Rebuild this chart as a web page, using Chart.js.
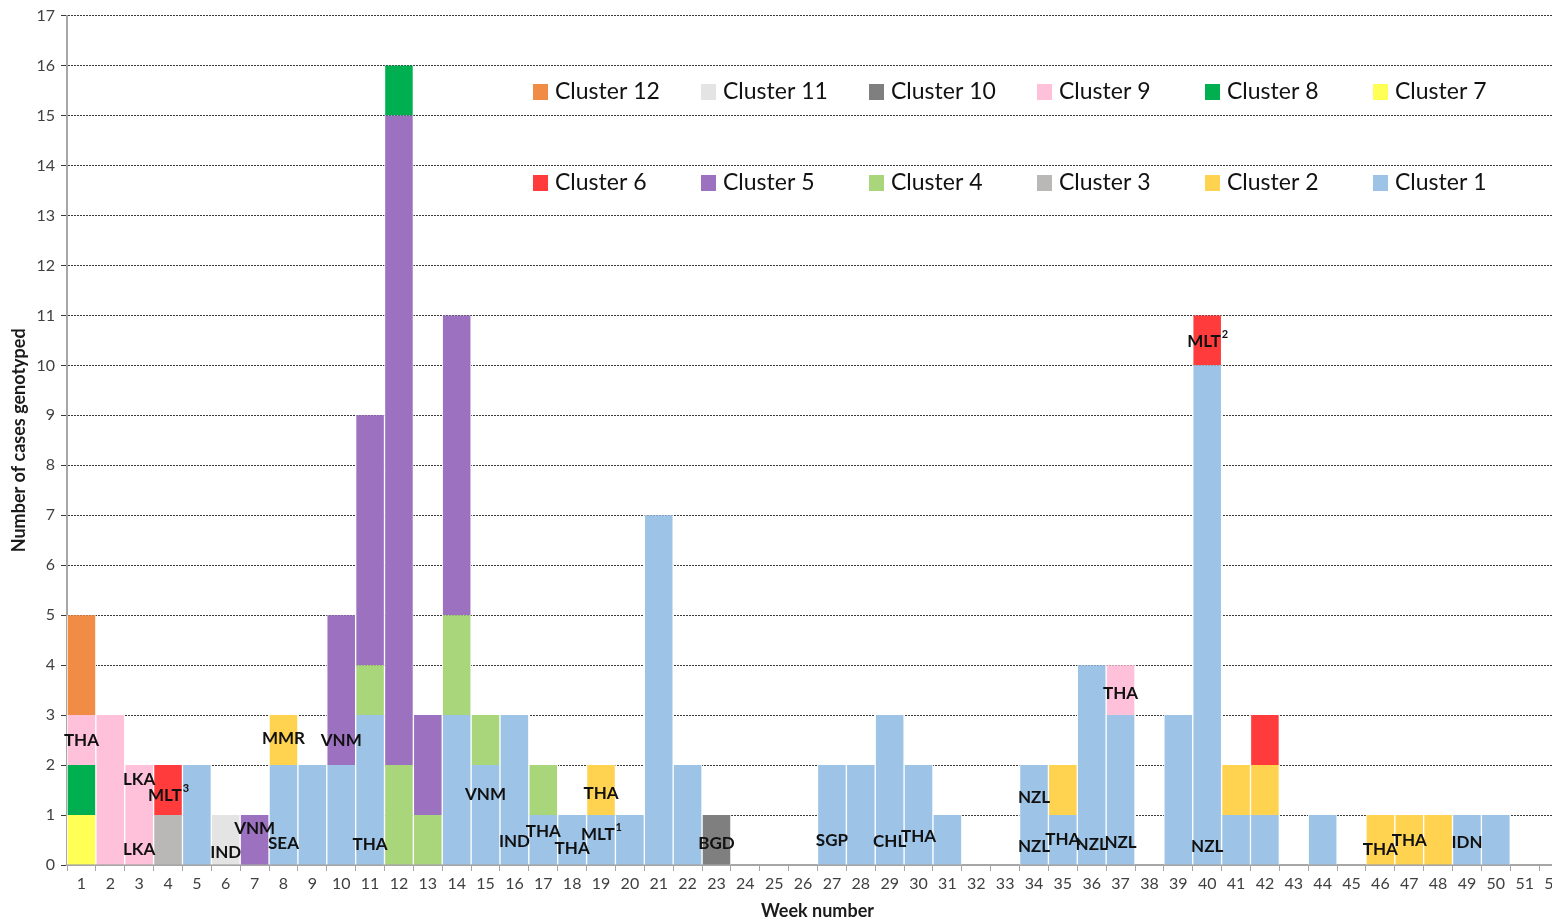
<!DOCTYPE html>
<html>
<head>
<meta charset="utf-8">
<script src="https://cdn.jsdelivr.net/npm/chart.js@4"></script>
<style>
  html, body { margin: 0; padding: 0; background: #fff; overflow: hidden; }
  #wrap { width: 1572px; height: 922px; position: relative; }
</style>
</head>
<body>
<div id="wrap"><canvas id="weekChart"></canvas></div>
<script>
// weeks 1..52
const weeks = Array.from({ length: 52 }, (_, i) => String(i + 1));

// cases per week for each cluster (sparse: week -> count)
const cluster1 = { 5: 2, 8: 2, 9: 2, 10: 2, 11: 3, 14: 3, 15: 2, 16: 3, 17: 1, 18: 1, 19: 1, 20: 1, 21: 7, 22: 2,
  27: 2, 28: 2, 29: 3, 30: 2, 31: 1, 34: 2, 35: 1, 36: 4, 37: 3, 39: 3, 40: 10, 41: 1, 42: 1, 44: 1, 49: 1, 50: 1 };
const cluster2 = { 8: 1, 19: 1, 35: 1, 41: 1, 42: 1, 46: 1, 47: 1, 48: 1 };
const cluster3 = { 4: 1 };
const cluster4 = { 11: 1, 12: 2, 13: 1, 14: 2, 15: 1, 17: 1 };
const cluster5 = { 7: 1, 10: 3, 11: 5, 12: 13, 13: 2, 14: 6 };
const cluster6 = { 4: 1, 40: 1, 42: 1 };
const cluster7 = { 1: 1 };
const cluster8 = { 1: 1, 12: 1 };
const cluster9 = { 1: 1, 2: 3, 3: 2, 37: 1 };
const cluster10 = { 23: 1 };
const cluster11 = { 6: 1 };
const cluster12 = { 1: 2 };

const clusterNames = ["Cluster 1", "Cluster 2", "Cluster 3", "Cluster 4", "Cluster 5", "Cluster 6",
  "Cluster 7", "Cluster 8", "Cluster 9", "Cluster 10", "Cluster 11", "Cluster 12"];
const clusterColors = ["#9dc3e6", "#ffd34f", "#bab7b7", "#a9d67a", "#9b71c0", "#ff3b3b",
  "#ffff55", "#00b050", "#ffc0d9", "#7f7f7f", "#e4e4e4", "#f08c46"];
const clusterCounts = [cluster1, cluster2, cluster3, cluster4, cluster5, cluster6,
  cluster7, cluster8, cluster9, cluster10, cluster11, cluster12];

// country tags written on the bars: week, height in cases, code, footnote mark
const tags = [
  [1, 2.5, "THA"], [3, 1.72, "LKA"], [3, 0.3, "LKA"], [4, 1.4, "MLT", "3"], [6, 0.24, "IND"],
  [7, 0.74, "VNM"], [8, 0.42, "SEA"], [8, 2.53, "MMR"], [10, 2.5, "VNM"], [11, 0.4, "THA"],
  [15, 1.42, "VNM"], [16, 0.48, "IND"], [17, 0.68, "THA"], [18, 0.32, "THA"], [19, 1.44, "THA"],
  [19, 0.62, "MLT", "1"], [23, 0.42, "BGD"], [27, 0.5, "SGP"], [29, 0.48, "CHL"], [30, 0.58, "THA"],
  [34, 1.36, "NZL"], [34, 0.36, "NZL"], [35, 0.52, "THA"], [36, 0.4, "NZL"], [37, 0.46, "NZL"],
  [37, 3.43, "THA"], [40, 10.48, "MLT", "2"], [40, 0.36, "NZL"], [46, 0.3, "THA"], [47, 0.5, "THA"],
  [49, 0.46, "IDN"]
];

const yMax = 17;
const FONT = "Lato, 'Open Sans', sans-serif";

const datasets = clusterNames.map((name, i) => ({
  label: name,
  data: weeks.map(w => clusterCounts[i][w] ?? null),
  backgroundColor: clusterColors[i],
  borderColor: "#ffffff",
  borderWidth: { left: 1, right: 1, top: 0, bottom: 0 },
  borderSkipped: false,
  barPercentage: 1,
  categoryPercentage: 1
}));

// country codes on top of the bars
const tagPlugin = {
  id: "tags",
  afterDraw(chart) {
    const { ctx, scales: { x, y } } = chart;
    ctx.save();
    ctx.fillStyle = "#111";
    ctx.textBaseline = "middle";
    ctx.textAlign = "left";
    tags.forEach(([wk, val, code, sup]) => {
      const px = x.getPixelForValue(wk - 1);
      const py = y.getPixelForValue(val);
      ctx.font = "bold 17px " + FONT;
      const w = ctx.measureText(code).width;
      let supW = 0;
      if (sup) {
        ctx.font = "bold 11px " + FONT;
        supW = ctx.measureText(sup).width;
      }
      const left = px - (w + supW) / 2;
      ctx.font = "bold 17px " + FONT;
      ctx.fillText(code, left, py);
      if (sup) {
        ctx.font = "bold 11px " + FONT;
        ctx.fillText(sup, left + w + 1, py - 7);
      }
    });
    ctx.restore();
  }
};

// legend inside the plot, two rows, highest cluster first
const legendPlugin = {
  id: "insideLegend",
  afterDraw(chart) {
    const { ctx } = chart;
    ctx.save();
    ctx.font = "23px " + FONT;
    ctx.textBaseline = "middle";
    ctx.textAlign = "left";
    const order = clusterNames.map((_, i) => i).reverse();
    order.forEach((idx, n) => {
      const row = Math.floor(n / 6);
      const col = n % 6;
      const bx = 533 + col * 168;
      const by = row === 0 ? 92 : 183;
      ctx.fillStyle = clusterColors[idx];
      ctx.fillRect(bx, by - 8, 15, 16);
      ctx.fillStyle = "#111";
      ctx.fillText(clusterNames[idx], bx + 22, by);
    });
    ctx.restore();
  }
};

new Chart(document.getElementById("weekChart"), {
  type: "bar",
  data: { labels: weeks, datasets },
  options: {
    responsive: true,
    maintainAspectRatio: false,
    animation: false,
    layout: { padding: { top: 13, right: 4, left: 0, bottom: 0 } },
    plugins: {
      legend: { display: false },
      tooltip: { enabled: false }
    },
    scales: {
      x: {
        stacked: true,
        offset: true,
        z: 1,
        grid: {
          display: true,
          offset: true,
          drawOnChartArea: false,
          drawTicks: true,
          tickLength: 6,
          color: "#a6a6a6"
        },
        border: { color: "#a6a6a6", width: 2 },
        ticks: { color: "#404040", font: { family: FONT, size: 16 }, maxRotation: 0, autoSkip: false, padding: 3 },
        title: { display: true, text: "Week number", color: "#1a1a1a", font: { family: FONT, size: 18, weight: "bold" }, padding: { top: 2, bottom: 0 } },
        afterFit(scale) { scale.height = 57; }
      },
      y: {
        stacked: true,
        min: 0,
        max: yMax,
        z: 1,
        grid: {
          color: ctx => ctx.tick.value === 0 ? "rgba(0,0,0,0)" : "#3a3a3a",
          lineWidth: 1,
          tickLength: 6,
          tickColor: "#3a3a3a"
        },
        // dash applies to the grid lines in v4
        border: { display: true, color: "#a6a6a6", width: 2, dash: [2, 1] },
        ticks: { stepSize: 1, color: "#404040", font: { family: FONT, size: 16 }, padding: 6 },
        title: { display: true, text: "Number of cases genotyped", color: "#1a1a1a", font: { family: FONT, size: 18, weight: "bold" }, padding: { top: 8, bottom: 2 } },
        afterFit(scale) { scale.width = 67; }
      }
    }
  },
  plugins: [tagPlugin, legendPlugin]
});
</script>
</body>
</html>
